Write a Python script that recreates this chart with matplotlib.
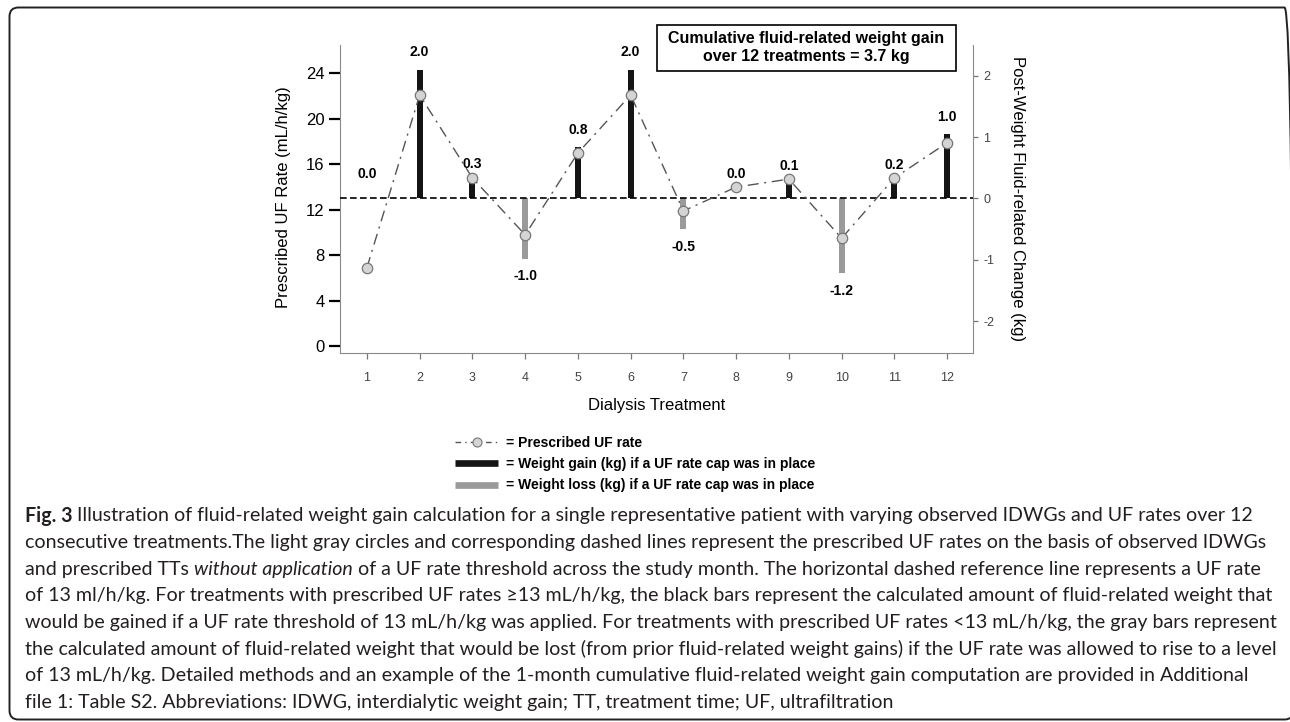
import numpy as np
import matplotlib.pyplot as plt
from matplotlib.lines import Line2D
from matplotlib.patches import FancyBboxPatch, Rectangle
from matplotlib.transforms import IdentityTransform

plt.rcParams['font.family'] = ['Liberation Sans', 'DejaVu Sans']
plt.rcParams['axes.unicode_minus'] = False

# data
treatment = np.arange(1, 13)
uf_rate = [6.9, 22.1, 14.8, 9.8, 17.0, 22.1, 11.9, 14.0, 14.7, 9.5, 14.8, 17.9]
weight_change = [0.0, 2.1, 0.28, -0.98, 0.84, 2.1, -0.5, 0.0, 0.25, -1.22, 0.27, 1.05]
weight_label = [0.0, 2.0, 0.3, -1.0, 0.8, 2.0, -0.5, 0.0, 0.1, -1.2, 0.2, 1.0]
uf_cap = 13
left_ticks = [0, 4, 8, 12, 16, 20, 24]
right_ticks = [-2, -1, 0, 1, 2]

legend_labels = ['= Prescribed UF rate',
                 '= Weight gain (kg) if a UF rate cap was in place',
                 '= Weight loss (kg) if a UF rate cap was in place']

caption = [
    [('Fig. 3', 'bold'), (' Illustration of fluid-related weight gain calculation for a single representative patient with varying observed IDWGs and UF rates over 12', 'normal')],
    [('consecutive treatments.The light gray circles and corresponding dashed lines represent the prescribed UF rates on the basis of observed IDWGs', 'normal')],
    [('and prescribed TTs ', 'normal'), ('without application', 'italic'), (' of a UF rate threshold across the study month. The horizontal dashed reference line represents a UF rate', 'normal')],
    [('of 13 ml/h/kg. For treatments with prescribed UF rates \u226513 mL/h/kg, the black bars represent the calculated amount of fluid-related weight that', 'normal')],
    [('would be gained if a UF rate threshold of 13 mL/h/kg was applied. For treatments with prescribed UF rates <13 mL/h/kg, the gray bars represent', 'normal')],
    [('the calculated amount of fluid-related weight that would be lost (from prior fluid-related weight gains) if the UF rate was allowed to rise to a level', 'normal')],
    [('of 13 mL/h/kg. Detailed methods and an example of the 1-month cumulative fluid-related weight gain computation are provided in Additional', 'normal')],
    [('file 1: Table S2. Abbreviations: IDWG, interdialytic weight gain; TT, treatment time; UF, ultrafiltration', 'normal')],
]

W, H = 1290, 722
fig = plt.figure(figsize=(W / 100, H / 100), dpi=100)

# rounded page frame, right side runs off the page
frame = FancyBboxPatch((9.5, 2.5), 1284, 712, boxstyle='round,pad=0,rounding_size=9',
                       transform=IdentityTransform(), fill=False, lw=1.4, ec='#222222')
fig.add_artist(frame)

ax = fig.add_axes([340 / W, 1 - 353 / H, 633 / W, 308 / H])
ax2 = ax.twinx()
ax.set_zorder(ax2.get_zorder() + 1)
ax.patch.set_visible(False)

bar_colors = ['#141414' if v >= 0 else '#9a9a9a' for v in weight_change]
ax2.bar(treatment, weight_change, width=0.114, color=bar_colors, zorder=2)

ax.axhline(uf_cap, color='k', lw=1.2, ls=(0, (4, 2)), zorder=3)
ax.plot(treatment, uf_rate, color='#555555', lw=1, ls=(0, (8, 4, 1.5, 4)),
        marker='o', ms=7.5, mfc='#d4d4d4', mec='#777777', mew=0.9, zorder=4)

for x, v, lab in zip(treatment, weight_change, weight_label):
    if v > 0:
        y = v + 0.28
    elif v < 0:
        y = v - 0.29
    else:
        y = 0.4
    ax2.text(x, y, f'{lab:.1f}', ha='center', va='center', fontsize=10, fontweight='bold')

ax.set_xlim(0.49, 12.49)
ax.set_ylim(-0.6, 26.5)
ax2.set_ylim(-2.52, 2.50)

for a in (ax, ax2):
    a.spines['top'].set_visible(False)
ax.spines['right'].set_visible(False)
ax2.spines['left'].set_visible(False)
ax2.spines['bottom'].set_visible(False)
ax.spines['left'].set_color('#8a8a8a')
ax.spines['bottom'].set_color('#8a8a8a')
ax2.spines['right'].set_color('#8a8a8a')

ax.set_yticks(left_ticks)
ax.tick_params(axis='y', length=8, width=1.6, color='k', pad=3, labelsize=12, labelcolor='k')
ax.set_xticks(treatment)
ax.tick_params(axis='x', length=4.5, width=0.9, color='#777777', pad=9, labelsize=9, labelcolor='#444444')
ax2.set_yticks(right_ticks)
ax2.tick_params(axis='y', length=3.6, width=0.9, color='#777777', pad=3.6, labelsize=9, labelcolor='#444444')

ax.set_ylabel('Prescribed UF Rate (mL/h/kg)', fontsize=12)
ax.yaxis.set_label_coords(-0.09, 0.505)
ax.yaxis.label.set_va('center')
ax2.set_ylabel('Post-Weight Fluid-related Change (kg)', fontsize=12, rotation=270)
ax2.yaxis.set_label_coords(1.071, 0.5)
ax2.yaxis.label.set_va('center')
ax.set_xlabel('Dialysis Treatment', fontsize=12)
ax.xaxis.set_label_coords(0.5, -0.169)
ax.xaxis.label.set_va('center')

# summary box
fig.add_artist(Rectangle((657 / W, 1 - 71 / H), 299 / W, 46 / H, transform=fig.transFigure,
                         fill=False, lw=1.2, ec='k'))
fig.text(806 / W, 1 - 48 / H,
         f'Cumulative fluid-related weight gain\nover {len(treatment)} treatments = {sum(weight_label):.1f} kg',
         ha='center', va='center', fontsize=11.5, fontweight='bold', linespacing=1.25)

# legend under the chart
h1 = Line2D([], [], color='#555555', lw=1, ls=(0, (4, 3, 1, 3)), marker='o', ms=6.5,
            mfc='#d4d4d4', mec='#777777', mew=0.8)
h2 = Line2D([], [], color='#141414', lw=4.8, solid_capstyle='butt')
h3 = Line2D([], [], color='#9a9a9a', lw=4.8, solid_capstyle='butt')
fig.legend([h1, h2, h3], legend_labels, loc='upper left', bbox_to_anchor=(455 / W, 1 - 436 / H),
           frameon=False, handlelength=3.1, handletextpad=0.6, labelspacing=0.52,
           borderpad=0, borderaxespad=0, prop={'weight': 'bold', 'size': 10})

# caption text
cap_font = ['Lato', 'DejaVu Sans']
styles = {'normal': {}, 'bold': {'fontweight': 'bold'}, 'italic': {'style': 'italic'}}
renderer = fig.canvas.get_renderer()


def seg_width(s, style, size):
    t = fig.text(0, 0, 'x' + s + 'x', fontsize=size, family=cap_font, **styles[style])
    w = t.get_window_extent(renderer).width
    t.remove()
    t = fig.text(0, 0, 'xx', fontsize=size, family=cap_font, **styles[style])
    w -= t.get_window_extent(renderer).width
    t.remove()
    return w


first = sum(seg_width(s, st, 10) for s, st in caption[0])
cap_size = 10 * 1224 / first

for i, line in enumerate(caption):
    x = 25
    y = 516 + i * 26.6
    for s, st in line:
        fig.text(x / W, 1 - y / H, s, fontsize=cap_size, family=cap_font, color='#231f20',
                 ha='left', va='center', **styles[st])
        x += seg_width(s, st, cap_size)

fig.savefig('out.png', dpi=100)
